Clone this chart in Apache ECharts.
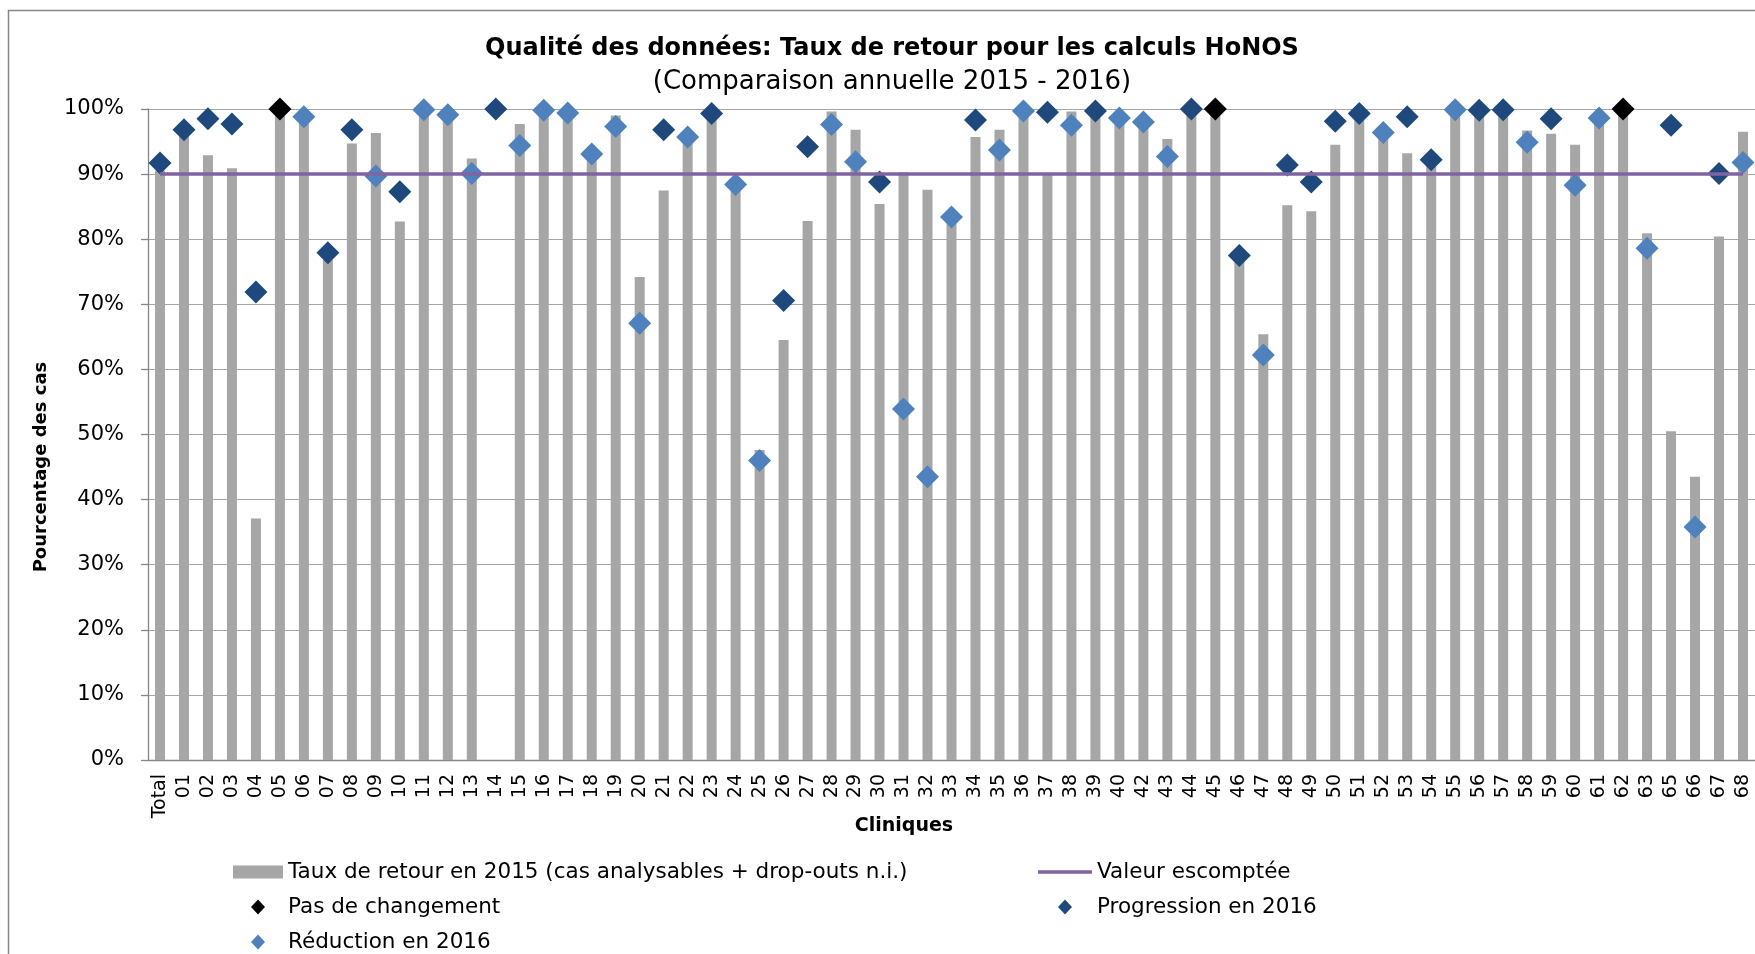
<!DOCTYPE html>
<html>
<head>
<meta charset="utf-8">
<title>HoNOS</title>
<script src="https://cdn.jsdelivr.net/npm/echarts@6/dist/echarts.min.js"></script>
<style>
  html, body { margin: 0; padding: 0; background: #fff; }
  #chart { width: 1755px; height: 954px; }
</style>
</head>
<body>
<div id="chart"></div>
<script>
// cliniques (axe x)
var categories = ['Total', '01', '02', '03', '04', '05', '06', '07', '08', '09',
  '10', '11', '12', '13', '14', '15', '16', '17', '18', '19',
  '20', '21', '22', '23', '24', '25', '26', '27', '28', '29',
  '30', '31', '32', '33', '34', '35', '36', '37', '38', '39',
  '40', '42', '43', '44', '45', '46', '47', '48', '49', '50',
  '51', '52', '53', '54', '55', '56', '57', '58', '59', '60',
  '61', '62', '63', '65', '66', '67', '68'];

// taux de retour 2015 (%), 14 sans valeur
var rate2015 = [90.5, 95.8, 92.9, 90.9, 37.1, 100, 99.6, 76.8, 94.7, 96.3,
  82.7, 100, 99.7, 92.4, null, 97.7, 100, 100, 93.9, 99.0,
  74.2, 87.5, 96.5, 98.6, 89.1, 47.6, 64.5, 82.8, 99.6, 96.8,
  85.4, 90.3, 87.6, 84.3, 95.7, 96.8, 100, 89.9, 99.6, 99.0,
  99.4, 98.8, 95.4, 99.2, 100, 76.8, 65.4, 85.2, 84.3, 94.5,
  98.6, 97.2, 93.2, 91.2, 100, 99.2, 99.5, 96.7, 96.2, 94.5,
  99.3, 100, 80.9, 50.5, 43.5, 80.4, 96.5];

// taux 2016 (%)
var rate2016 = [91.7, 96.8, 98.5, 97.7, 71.9, 100, 98.8, 77.9, 96.8, 89.7,
  87.3, 99.9, 99.1, 90.1, 100, 94.4, 99.8, 99.4, 93.1, 97.3,
  67.1, 96.8, 95.7, 99.3, 88.4, 46.0, 70.6, 94.2, 97.6, 91.9,
  88.8, 53.9, 43.5, 83.4, 98.3, 93.7, 99.7, 99.5, 97.5, 99.7,
  98.6, 98.0, 92.7, 100, 100, 77.5, 62.2, 91.4, 88.8, 98.1,
  99.3, 96.4, 98.8, 92.2, 99.9, 99.8, 99.9, 94.9, 98.5, 88.3,
  98.6, 100, 78.6, 97.5, 35.8, 90.1, 91.8];

// N = pas de changement, P = progression, R = réduction
var trend2016 = ['P', 'P', 'P', 'P', 'P', 'N', 'R', 'P', 'P', 'R',
  'P', 'R', 'R', 'R', 'P', 'R', 'R', 'R', 'R', 'R',
  'R', 'P', 'R', 'P', 'R', 'R', 'P', 'P', 'R', 'R',
  'P', 'R', 'R', 'R', 'P', 'R', 'R', 'P', 'R', 'P',
  'R', 'R', 'R', 'P', 'N', 'P', 'R', 'P', 'P', 'P',
  'P', 'R', 'P', 'P', 'R', 'P', 'P', 'R', 'P', 'R',
  'R', 'N', 'R', 'P', 'R', 'P', 'R'];

var target = 90;

var font = 'DejaVu Sans';
var barName = 'Taux de retour en 2015 (cas analysables + drop-outs n.i.)';
var lineName = 'Valeur escomptée';

var cGray = '#a6a6a6', cPurple = '#8064a2', cBlack = '#000000', cDark = '#1f497d', cLight = '#4f81bd';

// icones de légende : points aux coins pour garder la boîte, forme au centre
var iconRect = 'path://M0,0L0,0M50,16L50,16M0,1.5L50,1.5L50,14.5L0,14.5Z';
var iconDiamond50 = 'path://M0,0L0,0M50,16L50,16M25,0.5L32,8L25,15.5L18,8Z';
var iconLine = 'path://M0,0L0,0M54,16L54,16M0,6.3L54,6.3L54,9.7L0,9.7Z';
var iconDiamond54 = 'path://M0,0L0,0M54,16L54,16M27,0.5L34,8L27,15.5L20,8Z';

function pick(code) {
  return rate2016.map(function (v, i) {
    return trend2016[i] === code ? v : '-';
  });
}

var chart = echarts.init(document.getElementById('chart'));

var legendText = { fontFamily: font, fontSize: 21.5, lineHeight: 21, color: '#000' };

chart.setOption({
  animation: false,
  textStyle: { fontFamily: font },
  title: [{
    text: 'Qualité des données: Taux de retour pour les calculs HoNOS',
    left: 892,
    top: 37,
    padding: 0,
    textAlign: 'center',
    textStyle: { fontFamily: font, fontSize: 24, fontWeight: 'bold', color: '#000' }
  }, {
    text: '(Comparaison annuelle 2015 - 2016)',
    left: 892,
    top: 69,
    padding: 0,
    textAlign: 'center',
    textStyle: { fontFamily: font, fontSize: 26, fontWeight: 'normal', color: '#000' }
  }],
  graphic: [{
    type: 'rect',
    shape: { x: 8.5, y: 10.5, width: 1800, height: 1000 },
    style: { fill: 'none', stroke: '#868686', lineWidth: 1.5 },
    silent: true
  }, {
    type: 'text',
    x: 41,
    y: 467,
    rotation: Math.PI / 2,
    style: {
      text: 'Pourcentage des cas',
      align: 'center',
      verticalAlign: 'middle',
      fontFamily: font,
      fontSize: 18,
      fontWeight: 'bold',
      fill: '#000'
    }
  }, {
    type: 'text',
    x: 904,
    y: 826,
    style: {
      text: 'Cliniques',
      align: 'center',
      verticalAlign: 'middle',
      fontFamily: font,
      fontSize: 19,
      fontWeight: 'bold',
      fill: '#000'
    }
  }],
  legend: [{
    orient: 'vertical',
    left: 233,
    top: 861,
    width: 800,
    height: 200,
    padding: 0,
    itemWidth: 50,
    itemHeight: 16,
    itemGap: 13,
    selectedMode: false,
    textStyle: legendText,
    data: [
      { name: barName, icon: iconRect, itemStyle: { color: cGray } },
      { name: 'Pas de changement', icon: iconDiamond50, itemStyle: { color: cBlack } },
      { name: 'Réduction en 2016', icon: iconDiamond50, itemStyle: { color: cLight } }
    ]
  }, {
    orient: 'vertical',
    left: 1038,
    top: 861,
    width: 600,
    height: 200,
    padding: 0,
    itemWidth: 54,
    itemHeight: 16,
    itemGap: 13,
    selectedMode: false,
    textStyle: legendText,
    data: [
      { name: lineName, icon: iconLine, itemStyle: { color: cPurple } },
      { name: 'Progression en 2016', icon: iconDiamond54, itemStyle: { color: cDark } }
    ]
  }],
  grid: {
    left: 148,
    right: 0,
    top: 109,
    bottom: 194,
    containLabel: false
  },
  xAxis: {
    type: 'category',
    data: categories,
    axisLine: { lineStyle: { color: '#868686', width: 1.3 } },
    axisTick: { length: 7, lineStyle: { color: '#868686', width: 1.3 } },
    axisLabel: {
      rotate: 90,
      interval: 0,
      margin: 14,
      color: '#000',
      fontFamily: font,
      fontSize: 19
    }
  },
  yAxis: {
    type: 'value',
    min: 0,
    max: 100,
    interval: 10,
    axisLine: { show: true, lineStyle: { color: '#868686', width: 1.3 } },
    axisTick: { show: true, length: 7, lineStyle: { color: '#868686', width: 1.3 } },
    axisLabel: {
      margin: 24,
      color: '#000',
      fontFamily: font,
      fontSize: 21,
      formatter: '{value}%'
    },
    splitLine: { lineStyle: { color: '#a6a6a6', width: 1.2 } }
  },
  series: [{
    name: barName,
    type: 'bar',
    data: rate2015,
    barWidth: 10,
    itemStyle: { color: cGray }
  }, {
    name: lineName,
    type: 'line',
    data: categories.map(function () { return target; }),
    symbol: 'none',
    lineStyle: { color: cPurple, width: 3.5 },
    itemStyle: { color: cPurple }
  }, {
    name: 'Pas de changement',
    type: 'scatter',
    data: pick('N'),
    symbol: 'diamond',
    symbolSize: 23,
    itemStyle: { color: cBlack, opacity: 1 }
  }, {
    name: 'Progression en 2016',
    type: 'scatter',
    data: pick('P'),
    symbol: 'diamond',
    symbolSize: 23,
    itemStyle: { color: cDark, opacity: 1 }
  }, {
    name: 'Réduction en 2016',
    type: 'scatter',
    data: pick('R'),
    symbol: 'diamond',
    symbolSize: 23,
    itemStyle: { color: cLight, opacity: 1 }
  }]
});
</script>
</body>
</html>
